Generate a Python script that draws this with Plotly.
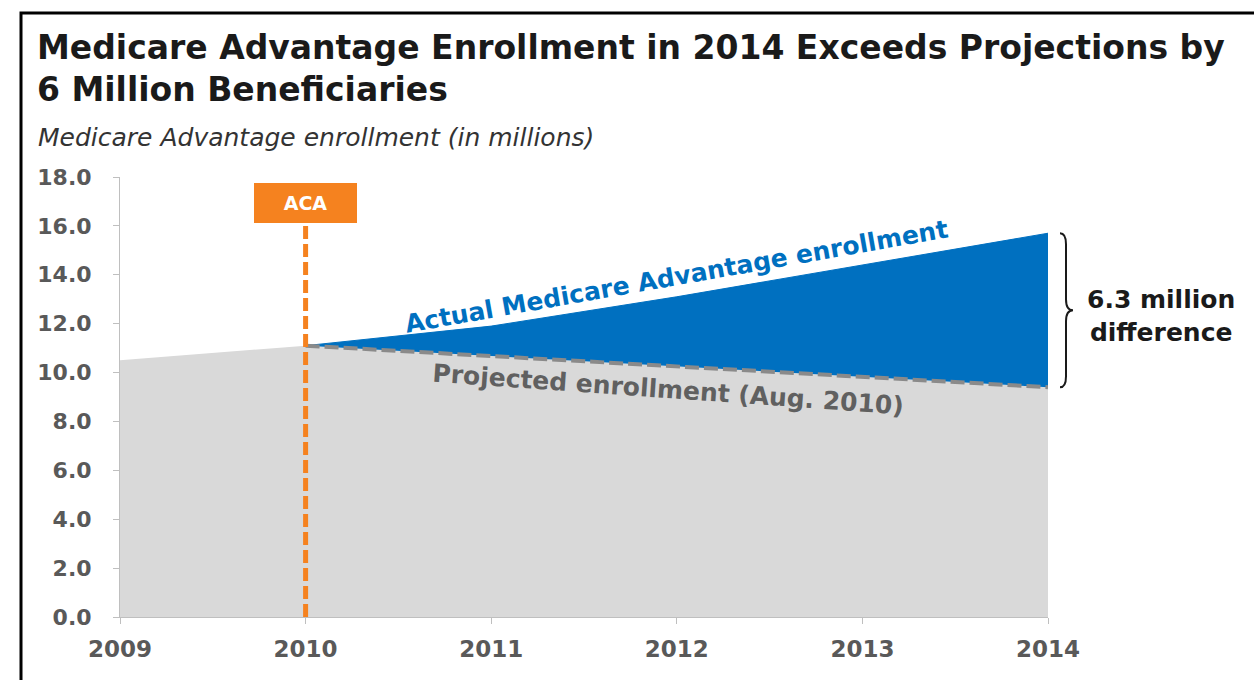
import plotly.graph_objects as go

years = [2009, 2010, 2011, 2012, 2013, 2014]
pre_aca = [10.5, 11.1]                       # 2009-2010 enrollment
proj_years = [2010, 2011, 2012, 2013, 2014]
projected = [11.1, 10.68, 10.25, 9.83, 9.4]  # Projected enrollment (Aug. 2010)
actual = [11.1, 11.9, 13.1, 14.4, 15.7]      # Actual MA enrollment
aca_year = 2010
aca_top = 16.3
y_ticks = [0, 2, 4, 6, 8, 10, 12, 14, 16, 18]

GRAY_FILL = "#d9d9d9"
BLUE = "#0070c0"
ORANGE = "#f5821f"
TICK_COL = "#595959"
FONT = "DejaVu Sans"

fig = go.Figure()

base_x = years[:1] + proj_years
base_y = pre_aca[:1] + projected
fig.add_trace(go.Scatter(x=base_x, y=base_y, fill="tozeroy", fillcolor=GRAY_FILL,
                         mode="lines", line=dict(width=0, color=GRAY_FILL),
                         hoverinfo="skip", showlegend=False))
fig.add_trace(go.Scatter(x=proj_years, y=projected, mode="lines",
                         line=dict(width=0, color=BLUE), hoverinfo="skip", showlegend=False))
fig.add_trace(go.Scatter(x=proj_years, y=actual, mode="lines", fill="tonexty",
                         fillcolor=BLUE, line=dict(width=1, color=BLUE),
                         hoverinfo="skip", showlegend=False))
fig.add_trace(go.Scatter(x=proj_years, y=projected, mode="lines",
                         line=dict(width=4, color="#8a8a8a", dash="14px,5px"),
                         hoverinfo="skip", showlegend=False))
fig.add_trace(go.Scatter(x=[aca_year, aca_year], y=[0, aca_top], mode="lines",
                         line=dict(width=5, color=ORANGE, dash="13px,5px"),
                         hoverinfo="skip", showlegend=False))

L, R, T, B = 120, 206, 177, 63
W, H = 1254, 680
pw, ph = W - L - R, H - T - B

def px_x(px):
    return (px - L) / pw

def px_y(py):
    return (H - B - py) / ph

annotations = [
    dict(text="<b>Medicare Advantage Enrollment in 2014 Exceeds Projections by</b>",
         xref="paper", yref="paper", x=px_x(35), y=px_y(47), xanchor="left", yanchor="middle",
         showarrow=False, font=dict(family=FONT, size=33, color="#1a1a1a")),
    dict(text="<b>6 Million Beneficiaries</b>",
         xref="paper", yref="paper", x=px_x(35), y=px_y(90), xanchor="left", yanchor="middle",
         showarrow=False, font=dict(family=FONT, size=33, color="#1a1a1a")),
    dict(text="<i>Medicare Advantage enrollment (in millions)</i>",
         xref="paper", yref="paper", x=px_x(36), y=px_y(137), xanchor="left", yanchor="middle",
         showarrow=False, font=dict(family=FONT, size=25, color="#333333")),
    dict(text="<b>ACA</b>", x=aca_year, y=16.94, xref="x", yref="y", showarrow=False,
         bgcolor=ORANGE, bordercolor=ORANGE, width=97, height=34, borderpad=2,
         font=dict(family=FONT, size=19, color="white")),
    dict(text="<b>Actual Medicare Advantage enrollment</b>", x=2012.0, y=13.95,
         xref="x", yref="y", showarrow=False, textangle=-10,
         font=dict(family=FONT, size=25, color=BLUE)),
    dict(text="<b>Projected enrollment (Aug. 2010)</b>", x=2011.95, y=9.3,
         xref="x", yref="y", showarrow=False, textangle=4,
         font=dict(family=FONT, size=25, color="#606060")),
    dict(text=f"<b>{actual[-1] - projected[-1]:.1f} million<br>difference</b>",
         xref="paper", yref="paper", x=px_x(1161), xanchor="center",
         y=(actual[-1] + projected[-1]) / 2 / 18, yanchor="middle", yshift=-6,
         showarrow=False, align="center",
         font=dict(family=FONT, size=25, color="#1a1a1a")),
]

yt = actual[-1] / 18
yb = projected[-1] / 18
ym = (yt + yb) / 2
x0, x1, x2 = px_x(1060), px_x(1066), px_x(1073)
d = 0.025
brace = (f"M {x0},{yt} Q {x1},{yt} {x1},{yt - d} L {x1},{ym + d} "
         f"Q {x1},{ym} {x2},{ym} Q {x1},{ym} {x1},{ym - d} "
         f"L {x1},{yb + d} Q {x1},{yb} {x0},{yb}")

shapes = [
    dict(type="path", path=brace, xref="paper", yref="paper",
         line=dict(color="#1a1a1a", width=2)),
    dict(type="rect", xref="paper", yref="paper", x0=px_x(21), x1=px_x(1300),
         y0=px_y(720), y1=px_y(13), line=dict(color="black", width=3)),
]

fig.update_layout(
    width=W, height=H,
    margin=dict(l=L, r=R, t=T, b=B),
    paper_bgcolor="white", plot_bgcolor="white",
    showlegend=False,
    annotations=annotations,
    shapes=shapes,
    xaxis=dict(range=[years[0], years[-1]], tickvals=years,
               ticktext=[f"<b>{y}</b>" for y in years],
               showgrid=False, zeroline=False, showline=True, linecolor="#bfbfbf", linewidth=1,
               ticks="outside", ticklen=6, tickcolor="#bfbfbf", ticklabelstandoff=5,
               tickfont=dict(family=FONT, size=23, color=TICK_COL)),
    yaxis=dict(range=[0, 18], tickvals=y_ticks,
               ticktext=[f"<b>{v:.1f}</b>" for v in y_ticks],
               showgrid=False, zeroline=False, showline=True, linecolor="#bfbfbf", linewidth=1,
               ticks="outside", ticklen=6, tickcolor="#bfbfbf", ticklabelstandoff=17,
               tickfont=dict(family=FONT, size=22, color=TICK_COL)),
)

fig.write_html("out.html")
